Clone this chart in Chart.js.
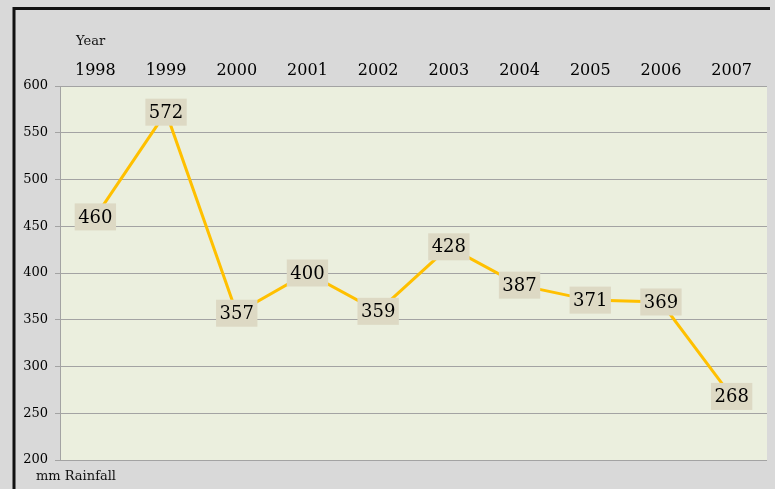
<!DOCTYPE html>
<html>
<head>
<meta charset="utf-8">
<script src="https://cdn.jsdelivr.net/npm/chart.js@4.4.1/dist/chart.umd.min.js"></script>
<style>
  html, body { margin:0; padding:0; background:#d9d9d9; }
  #wrap { position:absolute; left:0; top:0; width:775px; height:489px; }
</style>
</head>
<body>
<div id="wrap"><canvas id="rain" width="775" height="489"></canvas></div>
<script>
// rainfall per year, mm
const years = ['1998','1999','2000','2001','2002','2003','2004','2005','2006','2007'];
const rainfall = [460, 572, 357, 400, 359, 428, 387, 371, 369, 268];
const yTicks = [200, 250, 300, 350, 400, 450, 500, 550, 600];

const serif = "'DejaVu Serif', 'Liberation Serif', serif";

// background, frame and plot fill
const framePlugin = {
  id: 'frame',
  beforeDraw(chart) {
    let ctx = chart.ctx, a = chart.chartArea;
    ctx.save();
    ctx.fillStyle = '#d9d9d9';
    ctx.fillRect(0, 0, chart.width, chart.height);
    ctx.fillStyle = '#ebefde';
    ctx.fillRect(a.left, a.top, a.right - a.left, a.bottom - a.top);
    ctx.strokeStyle = '#111';
    ctx.lineWidth = 3;
    ctx.beginPath();
    ctx.moveTo(14, chart.height);
    ctx.lineTo(14, 8.5);
    ctx.lineTo(770, 8.5);
    ctx.stroke();
    ctx.restore();
  },
  afterDraw(chart) {
    let ctx = chart.ctx, a = chart.chartArea;
    ctx.save();
    ctx.fillStyle = '#111';
    ctx.font = '13px ' + serif;
    ctx.textBaseline = 'middle';
    ctx.textAlign = 'left';
    ctx.fillText('Year', a.left + 16, 42);
    ctx.fillText('mm Rainfall', 36, a.bottom + 17);
    ctx.restore();
  }
};

// boxed value labels sitting on each point
const valueLabels = {
  id: 'valueLabels',
  afterDatasetsDraw(chart) {
    let ctx = chart.ctx;
    let meta = chart.getDatasetMeta(0);
    ctx.save();
    ctx.font = '18px ' + serif;
    ctx.textAlign = 'center';
    ctx.textBaseline = 'middle';
    meta.data.forEach((pt, i) => {
      let txt = String(rainfall[i]);
      let w = ctx.measureText(txt).width + 7;
      let h = 27;
      ctx.fillStyle = '#ddd9c4';
      ctx.fillRect(pt.x - w/2, pt.y - h/2, w, h);
      ctx.fillStyle = '#000';
      ctx.fillText(txt, pt.x, pt.y + 1);
    });
    ctx.restore();
  }
};

new Chart(document.getElementById('rain').getContext('2d'), {
  type: 'line',
  data: {
    labels: years,
    datasets: [{
      data: rainfall,
      borderColor: '#ffc000',
      borderWidth: 3,
      pointRadius: 0,
      tension: 0,
      fill: false
    }]
  },
  options: {
    responsive: false,
    animation: false,
    events: [],
    layout: { padding: { left: 15, top: 10, right: 8, bottom: 29 } },
    plugins: { legend: { display: false }, tooltip: { enabled: false } },
    scales: {
      x: {
        position: 'top',
        offset: true,
        grid: { display: false, drawTicks: false, tickLength: 0 },
        border: { display: false },
        ticks: { color: '#000', font: { family: serif, size: 16 }, padding: 6, maxRotation: 0 },
        afterFit: s => { s.height = 76; }
      },
      y: {
        min: 200,
        max: 600,
        afterBuildTicks: s => { s.ticks = yTicks.map(v => ({ value: v })); },
        grid: { color: '#a3a3a3', lineWidth: 1, tickLength: 5 },
        border: { color: '#a3a3a3', width: 1 },
        ticks: { color: '#000', font: { family: serif, size: 13 }, padding: 7 },
        afterFit: s => { s.width = 45; }
      }
    }
  },
  plugins: [framePlugin, valueLabels]
});
</script>
</body>
</html>
